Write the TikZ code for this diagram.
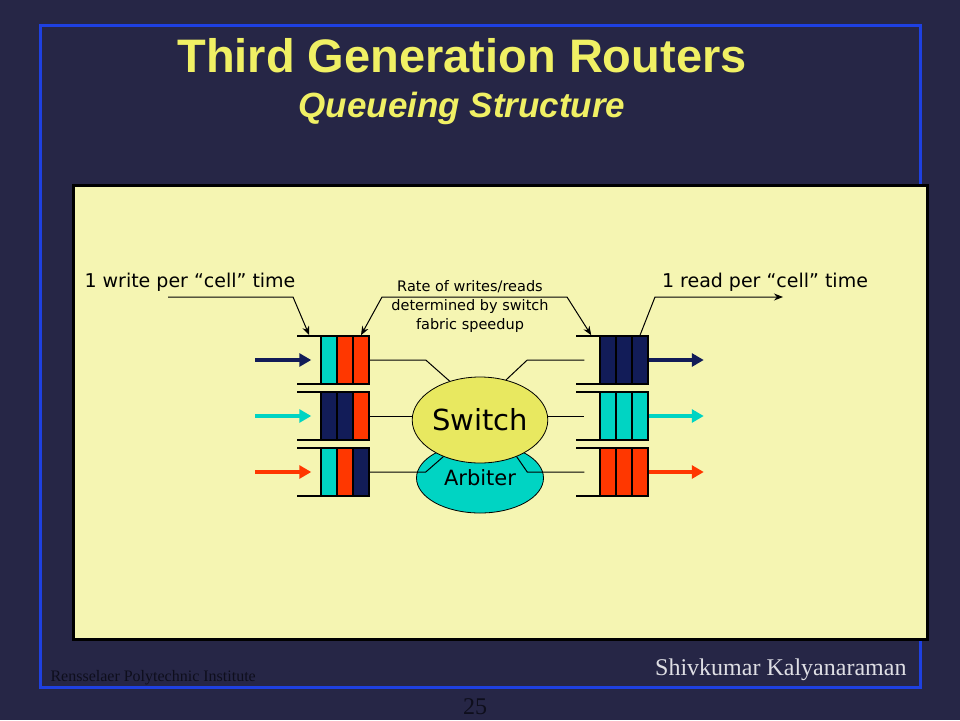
\documentclass[tikz,border=0pt]{standalone}
\usepackage{fontspec}
\usepackage{xcolor}
\usepackage{tikz}
\usetikzlibrary{shapes.geometric,arrows.meta}
\setmainfont{Liberation Serif}
\newfontfamily\headfont{Liberation Sans}
\newfontfamily\slidefont{DejaVu Sans}

\definecolor{slidebg}{RGB}{38,38,70}
\definecolor{framebl}{RGB}{30,64,225}
\definecolor{titley}{RGB}{240,240,100}
\definecolor{panely}{RGB}{245,245,178}
\definecolor{navyq}{RGB}{18,28,88}
\definecolor{cyanq}{RGB}{0,212,195}
\definecolor{redq}{RGB}{255,55,0}
\definecolor{switchy}{RGB}{232,232,96}
\definecolor{footgr}{RGB}{222,222,228}
\definecolor{footdk}{RGB}{14,14,28}

\begin{document}
\begin{tikzpicture}[
            x = 1pt, y = -1pt, % one unit per pixel, y going down
            > = {Stealth[length=9pt,width=7pt]}, % arrow head style
            cell/.style = {draw=black, line width=1.5pt, minimum width=16pt,
                           minimum height=48pt, inner sep=0pt},
            rail/.style = {line width=1.5pt},
            flow/.style = {line width=4pt, -{Triangle[length=12pt,width=13pt]}},
            wire/.style = {line width=1pt},
            note/.style = {line width=1pt},
            bubble/.style = {ellipse, draw=black, line width=0.8pt, inner sep=0pt,
                             minimum width=127pt, font=\slidefont}
        ]
\useasboundingbox (0,0) rectangle (960,720);
\fill[slidebg] (0,0) rectangle (960,720);
\draw[framebl, line width=3pt] (40,25) rectangle (920,687);

\node[anchor=base, text=titley, font=\headfont\bfseries\fontsize{47}{50}\selectfont] (title) at (462,72) {Third Generation Routers};
\node[anchor=base, text=titley, font=\headfont\bfseries\itshape\fontsize{35}{40}\selectfont] (subtitle) at (462,117) {Queueing Structure};

\draw[line width=3pt, fill=panely] (73,185) rectangle (927,639);

% queues
\foreach \y in {360,416,472} {
  \draw[rail] (297,\y-24) -- (370,\y-24);
  \draw[rail] (297,\y+24) -- (370,\y+24);
  \draw[rail] (576,\y-24) -- (648,\y-24);
  \draw[rail] (576,\y+24) -- (648,\y+24);
}
\foreach \r/\y/\ca/\cb/\cc/\cout in {1/360/cyanq/redq/redq/navyq,
                                     2/416/navyq/navyq/redq/cyanq,
                                     3/472/cyanq/redq/navyq/redq} {
  \node[cell, fill=\ca] (l\r a) at (329,\y) {};
  \node[cell, fill=\cb] (l\r b) at (345,\y) {};
  \node[cell, fill=\cc] (l\r c) at (361,\y) {};
  \node[cell, fill=\cout] (r\r a) at (608,\y) {};
  \node[cell, fill=\cout] (r\r b) at (624,\y) {};
  \node[cell, fill=\cout] (r\r c) at (640,\y) {};
}

\node[bubble, fill=cyanq, minimum height=70pt, font=\slidefont\fontsize{21}{24}\selectfont] (arb) at (480,478) {Arbiter};
\node[bubble, fill=switchy, minimum height=86pt, font=\slidefont\fontsize{29}{32}\selectfont] (sw) at (480,420) {Switch};

\draw[wire] (l1c.east) -- ([xshift=56pt]l1c.east) -- (sw.128);
\draw[wire] (l2c.east) -- (sw.west |- l2c.east);
\draw[wire] (l3c.east) -- ([xshift=56pt]l3c.east) -- (sw.225);
\draw[wire] (sw.57) -- ([xshift=-72pt]r1a.west) -- ([xshift=-15pt]r1a.west);
\draw[wire] (sw.east |- r2a.west) -- ([xshift=-15pt]r2a.west);
\draw[wire] (sw.315) -- ([xshift=-72pt]r3a.west) -- ([xshift=-15pt]r3a.west);

\draw[flow, navyq] ([xshift=-65pt]l1a.west) -- ([xshift=-9pt]l1a.west);
\draw[flow, cyanq] ([xshift=-65pt]l2a.west) -- ([xshift=-9pt]l2a.west);
\draw[flow, redq] ([xshift=-65pt]l3a.west) -- ([xshift=-9pt]l3a.west);
\draw[flow, navyq] (r1c.east) -- ([xshift=55pt]r1c.east);
\draw[flow, cyanq] (r2c.east) -- ([xshift=55pt]r2c.east);
\draw[flow, redq] (r3c.east) -- ([xshift=55pt]r3c.east);

% labels
\node[font=\slidefont\fontsize{19}{22}\selectfont] (wtxt) at (190,282) {1 write per “cell” time};
\node[font=\slidefont\fontsize{19}{22}\selectfont] (rtxt) at (765,282) {1 read per “cell” time};
\node[align=center, font=\slidefont\fontsize{14.5}{19}\selectfont] (rate) at (470,306) {Rate of writes/reads\\determined by switch\\fabric speedup};

\coordinate (wfoot) at (168,297);
\coordinate (wbend) at (293,297);
\coordinate (rleft) at (382,297);
\coordinate (rright) at (567,297);
\coordinate (rdbend) at (655,297);
\coordinate (rdend) at (783,297);

\draw[note, ->] (wfoot) -- (wbend) -- ([xshift=-11pt]l1a.north west);
\draw[note, <->] (l1c.north) -- (rleft) -- (rright) -- ([xshift=-8pt]r1a.north west);
\draw[note, ->] (r1c.north) -- (rdbend) -- (rdend);

% footer
\node[anchor=base west, text=footdk, font=\fontsize{16}{18}\selectfont] (inst) at (47,681) {Rensselaer Polytechnic Institute};
\node[anchor=base east, text=footgr, font=\fontsize{24}{26}\selectfont] (author) at (910,675) {Shivkumar Kalyanaraman};
\node[anchor=base, text=footdk, font=\fontsize{24}{26}\selectfont] (pageno) at (475,714) {25};
\end{tikzpicture}
\end{document}
